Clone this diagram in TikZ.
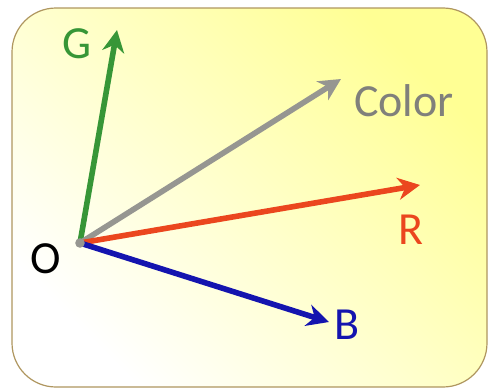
\documentclass[tikz,border=0pt]{standalone}
\usepackage{fontspec}
\setmainfont{Carlito}
\usetikzlibrary{arrows.meta}
\definecolor{frame}{RGB}{175,150,95}
\definecolor{gcol}{RGB}{55,150,55}
\definecolor{ccol}{RGB}{150,150,145}
\definecolor{rcol}{RGB}{235,70,30}
\definecolor{bcol}{RGB}{20,20,175}
\tikzset{
  vec/.style={line width=2.8pt, -{Stealth[length=11pt, width=11pt, inset=3.5pt]}},
  lbl/.style={font=\fontsize{23}{23}\selectfont, inner sep=0pt}
}
\begin{document}
\begin{tikzpicture}[x=0.5pt, y=-0.5pt]
    \useasboundingbox (0,0) rectangle (491,391);
    \shade[top color=yellow!42, bottom color=white, shading angle=-45, draw=frame, line width=0.6pt, rounded corners=22pt] (12,8) rectangle (487,387);
    \coordinate (O) at (80,243);
    \coordinate (g) at (117,30);
    \coordinate (c) at (341,79);
    \coordinate (r) at (420,185);
    \coordinate (b) at (329,322);
    \draw[vec, gcol] (O) -- (g);
    \draw[vec, ccol] (O) -- (c);
    \draw[vec, rcol] (O) -- (r);
    \draw[vec, bcol] (O) -- (b);
    \fill[ccol] (O) circle (2.4pt);
    \node[lbl, gcol] (G) at (77,44) {G};
    \node[lbl, ccol!85!black] (C) at (404,101) {Color};
    \node[lbl, rcol] (R) at (411,230) {R};
    \node[lbl, black] (o) at (46,259) {O};
    \node[lbl, bcol] (B) at (347,325) {B};
\end{tikzpicture}
\end{document}
